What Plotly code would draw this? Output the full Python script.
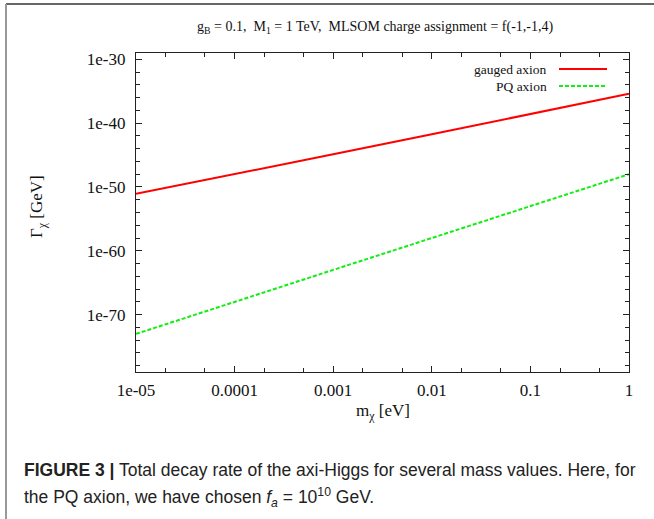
import plotly.graph_objects as go

# ---- data ----
mass_eV = [1e-5, 1e-4, 1e-3, 1e-2, 1e-1, 1.0]
gamma_gauged = [8.3e-52, 9.5e-49, 1.3e-45, 1.8e-42, 2.6e-39, 4.2e-36]
gamma_pq = [9.3e-74, 1.1e-68, 1.0e-63, 1.0e-58, 1.0e-53, 1.0e-48]
series_names = ["gauged axion", "PQ axion"]

x_tickvals = [1e-5, 1e-4, 1e-3, 1e-2, 1e-1, 1.0]
x_ticktext = ["1e-05", "0.0001", "0.001", "0.01", "0.1", "1"]
x_minor = [2e-5, 5e-5, 2e-4, 5e-4, 2e-3, 5e-3, 2e-2, 5e-2, 2e-1, 5e-1]
y_tickvals = [1e-30, 1e-40, 1e-50, 1e-60, 1e-70]
y_ticktext = ["1e-30", "1e-40", "1e-50", "1e-60", "1e-70"]
y_minor_exp = [-32, -34, -36, -38, -42, -44, -46, -48, -52, -54, -56, -58,
               -62, -64, -66, -68, -72, -74, -76, -78]
y_minor = [10.0 ** e for e in y_minor_exp]

colors = ["#ff0000", "#11ee11"]
dashes = ["solid", "4px,2px"]

SERIF = "Liberation Serif"
SANS = "Liberation Sans"

fig = go.Figure()
for name, ys, c, d in zip(series_names, [gamma_gauged, gamma_pq], colors, dashes):
    fig.add_trace(go.Scatter(x=mass_eV, y=ys, mode="lines", name=name,
                             line=dict(color=c, width=2, dash=d),
                             showlegend=False))

axis_common = dict(
    type="log", showgrid=False, zeroline=False,
    showline=True, linecolor="#222", linewidth=1.2, mirror="allticks",
    ticks="inside", ticklen=6, tickwidth=1, tickcolor="#222",
    tickfont=dict(family=SERIF, size=17, color="#111"),
    automargin=False,
)

fig.update_xaxes(range=[-5, 0], tickmode="array", tickvals=x_tickvals,
                 ticktext=x_ticktext, ticklabelstandoff=2,
                 minor=dict(tickmode="array", tickvals=x_minor, ticks="inside",
                            ticklen=3.5, tickcolor="#222"),
                 **axis_common)
fig.update_yaxes(range=[-79, -29], tickmode="array", tickvals=y_tickvals,
                 ticktext=y_ticktext, ticklabelstandoff=6,
                 minor=dict(tickmode="array", tickvals=y_minor, ticks="inside",
                            ticklen=3.5, tickcolor="#222"),
                 **axis_common)

L, R, T, B = 136, 25, 53, 147
W, H = 654, 519
pw, ph = W - L - R, H - T - B


def px(x):
    return (x - L) / pw


def py(y):
    return (H - B - y) / ph


annotations = [
    dict(text="g<sub>B</sub> = 0.1,  M<sub>1</sub> = 1 TeV,  MLSOM charge assignment = f(-1,-1,4)",
         x=px(375), y=py(27), xref="paper", yref="paper", showarrow=False,
         xanchor="center", yanchor="middle",
         font=dict(family=SERIF, size=14, color="#111")),
    dict(text="m<sub>χ</sub> [eV]", x=px(383), y=py(412), xref="paper", yref="paper",
         showarrow=False, xanchor="center", yanchor="middle",
         font=dict(family=SERIF, size=17, color="#111")),
    dict(text="Γ<sub>χ</sub> [GeV]", x=px(38), y=py(207), xref="paper", yref="paper",
         showarrow=False, xanchor="center", yanchor="middle", textangle=-90,
         font=dict(family=SERIF, size=17, color="#111")),
    dict(text="<b>FIGURE 3 |</b> Total decay rate of the axi-Higgs for several mass values. Here, for",
         x=px(22), y=py(470), xref="paper", yref="paper", showarrow=False,
         xanchor="left", yanchor="middle",
         font=dict(family=SANS, size=17.5, color="#222")),
    dict(text="the PQ axion, we have chosen <i>f<sub>a</sub></i> = 10<sup>10</sup> GeV.",
         x=px(22), y=py(497), xref="paper", yref="paper", showarrow=False,
         xanchor="left", yanchor="middle",
         font=dict(family=SANS, size=17.5, color="#222")),
]

shapes = []
legend_y = [69, 86]
for name, c, d, ly in zip(series_names, colors, dashes, legend_y):
    annotations.append(dict(text=name, x=px(549), y=py(ly), xref="paper", yref="paper",
                            showarrow=False, xanchor="right", yanchor="middle",
                            font=dict(family=SERIF, size=13.5, color="#111")))
    shapes.append(dict(type="line", xref="paper", yref="paper",
                       x0=px(559), x1=px(607), y0=py(ly), y1=py(ly),
                       line=dict(color=c, width=2, dash=d)))

# outer figure frame (top and left edges)
shapes.append(dict(type="line", xref="paper", yref="paper",
                   x0=px(6), x1=px(654), y0=py(4), y1=py(4),
                   line=dict(color="#333", width=1.5)))
shapes.append(dict(type="line", xref="paper", yref="paper",
                   x0=px(6), x1=px(6), y0=py(4), y1=py(519),
                   line=dict(color="#999", width=2)))

fig.update_layout(
    width=W, height=H,
    margin=dict(l=L, r=R, t=T, b=B, pad=0),
    paper_bgcolor="white", plot_bgcolor="white",
    annotations=annotations, shapes=shapes,
    showlegend=False,
)

fig.write_html("out.html", config={"displayModeBar": False},
               post_script="document.body.style.margin='0';document.body.style.overflow='hidden';")
